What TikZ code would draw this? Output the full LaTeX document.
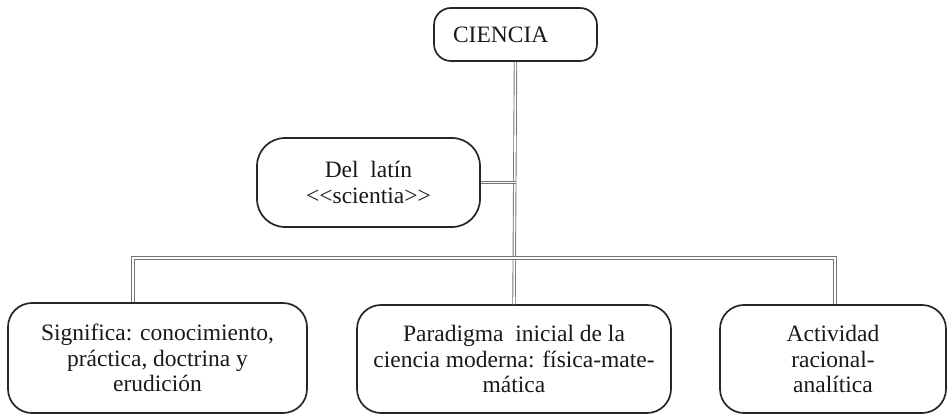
\documentclass[tikz,border=0pt]{standalone}
\usepackage{fontspec}
\setmainfont{Liberation Serif}
\begin{document}
\begin{tikzpicture}[x=1pt,y=1pt,
  box/.style={draw=black!85, line width=1.7pt, rounded corners=24pt, align=center,
    inner sep=0pt, font=\fontsize{23.5}{25.5}\selectfont, text=black!90},
  dbl/.style={draw=black!55, line width=0.9pt, double=white, double distance=1.6pt}]
\useasboundingbox (0,0) rectangle (948,415);
\node[box, rounded corners=17pt, minimum height=53pt, text width=125pt, inner xsep=19pt, align=left] (ci) at (515.5,380.5) {CIENCIA};
\node[box, rounded corners=28pt, minimum width=223pt, minimum height=89pt] (dl) at (368.5,232.5) {Del\ \ latín\\\textless\kern0pt\textless scientia\textgreater\kern0pt\textgreater};
\node[box, minimum width=299pt, minimum height=110pt] (si) at (157.5,57) {Significa: conocimiento,\\práctica, doctrina y\\erudición};
\node[box, minimum width=314pt, minimum height=108pt] (pa) at (514,56) {Paradigma\ \ inicial de la\\ciencia moderna: física-mate-\\mática};
\node[box, minimum width=226pt, minimum height=108pt] (ac) at (833,56) {Actividad\\racional-\\analítica};
\coordinate (j1) at (ci.south |- dl.east);
\coordinate (bl) at (133,157);
\coordinate (br) at (835,157);
\draw[dbl] (ci.south) -- (pa.north);
\draw[dbl] (dl.east) -- (j1);
\draw[dbl] (bl |- si.north) -- (bl) -- (br) -- (br |- ac.north);
\end{tikzpicture}
\end{document}
